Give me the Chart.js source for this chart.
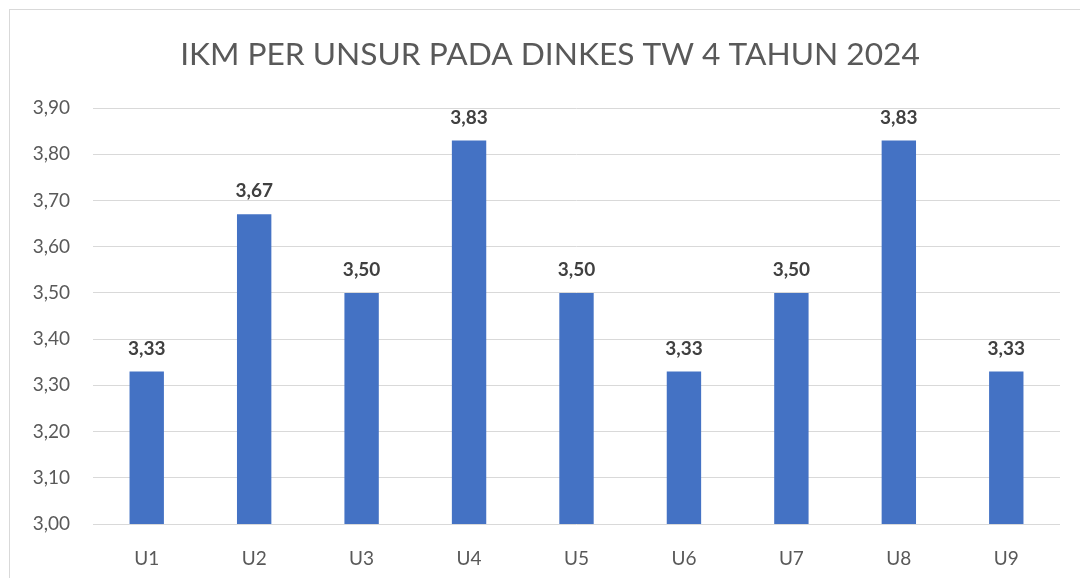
<!DOCTYPE html>
<html>
<head>
<meta charset="utf-8">
<script src="https://cdn.jsdelivr.net/npm/chart.js@4"></script>
<style>
    html, body { margin: 0; padding: 0; background: #fff; overflow: hidden; }
    #wrap {
        position: absolute; left: 9px; top: 9px; width: 1080px; height: 569px;
        border-top: 1px solid #d9d9d9; border-left: 1px solid #d9d9d9;
    }
</style>
</head>
<body>
<div id="wrap"><canvas id="ikmChart"></canvas></div>
<script>
// Data
const categories = ['U1', 'U2', 'U3', 'U4', 'U5', 'U6', 'U7', 'U8', 'U9'];
const ikmValues = [3.33, 3.67, 3.50, 3.83, 3.50, 3.33, 3.50, 3.83, 3.33];
const yTicks = [3.00, 3.10, 3.20, 3.30, 3.40, 3.50, 3.60, 3.70, 3.80, 3.90];
const chartTitle = 'IKM PER UNSUR PADA DINKES TW 4 TAHUN 2024';

const fontFamily = 'Lato, "Open Sans", sans-serif';
const toComma = v => v.toFixed(2).replace('.', ',');

// Simple value labels above the bars
const barLabels = {
    id: 'barLabels',
    afterDatasetsDraw(chart) {
        const ctx = chart.ctx;
        const meta = chart.getDatasetMeta(0);
        ctx.save();
        ctx.font = 'bold 19px ' + fontFamily;
        ctx.fillStyle = '#404040';
        ctx.textAlign = 'center';
        ctx.textBaseline = 'middle';
        meta.data.forEach((bar, i) => {
            ctx.fillText(toComma(ikmValues[i]), bar.x, bar.y - 23);
        });
        ctx.restore();
    }
};

const ctx = document.getElementById('ikmChart').getContext('2d');
const ikmChart = new Chart(ctx, {
    type: 'bar',
    data: {
        labels: categories,
        datasets: [{
            data: ikmValues,
            backgroundColor: '#4472C4',
            barPercentage: 0.32,
            categoryPercentage: 1.0
        }]
    },
    options: {
        responsive: true,
        maintainAspectRatio: false,
        animation: false,
        layout: { padding: 0 },
        plugins: {
            legend: { display: false },
            tooltip: { enabled: false },
            title: {
                display: true,
                text: chartTitle,
                color: '#595959',
                font: { family: fontFamily, size: 31.7, weight: 'normal' },
                padding: { top: 26, bottom: 34 }
            }
        },
        scales: {
            x: {
                grid: { display: false },
                border: { display: false },
                ticks: {
                    color: '#595959',
                    font: { family: fontFamily, size: 19 },
                    padding: 15
                },
                afterFit(scale) { scale.height = 55; }
            },
            y: {
                min: 3.0,
                max: 3.9,
                afterBuildTicks(scale) {
                    scale.ticks = yTicks.map(v => ({ value: v }));
                },
                grid: { color: '#d9d9d9', lineWidth: 1, drawTicks: false },
                border: { display: false },
                ticks: {
                    color: '#595959',
                    font: { family: fontFamily, size: 19 },
                    padding: 23,
                    callback: v => toComma(v)
                },
                afterFit(scale) { scale.width = 83; }
            },
            // empty right-hand spacer so the title stays centred on the whole box
            yRight: {
                position: 'right',
                min: 3.0,
                max: 3.9,
                grid: { display: false },
                border: { display: false },
                ticks: { display: false },
                afterFit(scale) { scale.width = 30; }
            }
        }
    },
    plugins: [barLabels]
});
</script>
</body>
</html>
